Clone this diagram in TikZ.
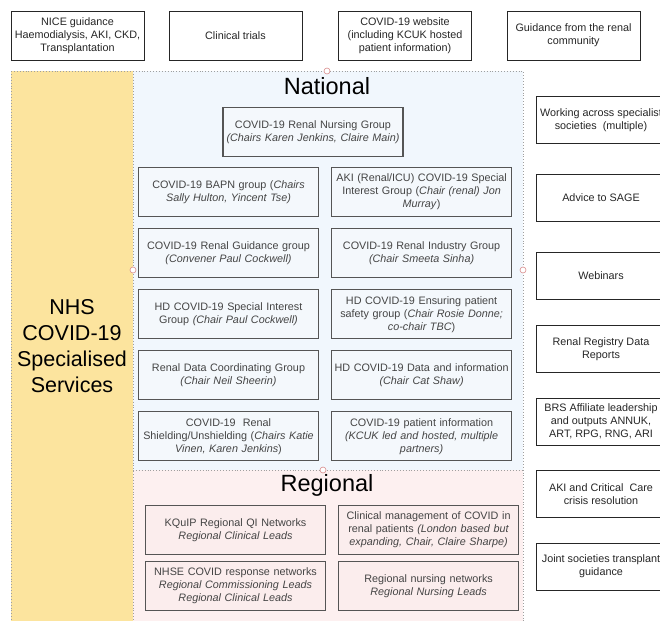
\documentclass[tikz,border=0pt]{standalone}
\usepackage{fontspec}
\setmainfont{Liberation Sans}
\usetikzlibrary{
    positioning
}
\definecolor{nhsYellow}{HTML}{FCE49E}
\definecolor{natFill}{HTML}{F1F7FD}
\definecolor{natBox}{HTML}{F4F8FC}
\definecolor{regFill}{HTML}{FDF0F0}
\definecolor{regBox}{HTML}{FBEDED}
\definecolor{boxLine}{HTML}{555555}
\definecolor{textGrey}{HTML}{444444}
\definecolor{handlePink}{HTML}{D98C8C}
\newcommand{\boxfont}{\fontsize{10.8}{13}\selectfont}
\tikzset{
    natBlock/.style={
        draw=boxLine,
        fill=natBox,
        line width=1.1pt,
        text width=176pt,
        inner xsep=2pt,
        minimum height=49pt,
        align=center,
        text=textGrey,
        font=\boxfont
    },
    regBlock/.style={
        natBlock,
        fill=regBox
    },
    outBlock/.style={
        draw=black!85,
        fill=white,
        line width=1pt,
        minimum width=133pt,
        minimum height=49pt,
        inner xsep=1pt,
        align=center,
        text=black!85,
        font=\boxfont
    },
    dotLine/.style={draw=gray!75,dotted,line width=0.9pt},
    handle/.style={circle,draw=handlePink,fill=white,inner sep=0pt,minimum size=6pt,line width=0.6pt},
    titleText/.style={font=\fontsize{23.5}{28}\selectfont,text=black}
}

\begin{document}
\begin{tikzpicture}[x=1pt,y=-1pt]
        \useasboundingbox (0,0) rectangle (660,621);
        \clip (0,0) rectangle (660,621);

        % background bands
        \fill[nhsYellow] (11,71) rectangle (133,621);
        \fill[natFill] (133,71) rectangle (523,470);
        \fill[regFill] (133,470) rectangle (523,621);
        \draw[dotLine] (11,71) -- (523,71) -- (523,621);
        \draw[dotLine] (11,71) -- (11,621);
        \draw[dotLine] (133,71) -- (133,621);
        \draw[dotLine] (133,470) -- (523,470);

        \node[handle] (hTop) at (327,71) {};
        \node[handle] (hLeft) at (133,270) {};
        \node[handle] (hRight) at (523,270) {};
        \node[handle] (hReg) at (323,470) {};

        \node[font=\fontsize{21.5}{26}\selectfont,align=center] (nhs) at (72,346)
            {NHS\\COVID-19\\Specialised\\Services};

        % top row
        \node[outBlock] (nice) at (77.5,35.5)
            {NICE guidance\\Haemodialysis, AKI, CKD,\\Transplantation};
        \node[outBlock] (trials) at (235.5,35.5) {Clinical trials};
        \node[outBlock] (website) at (405,35.5)
            {COVID-19 website\\(including KCUK hosted\\patient information)};
        \node[outBlock] (community) at (573.5,35.5)
            {Guidance from the renal\\community};

        % national groups
        \node[titleText] (national) at (327,86) {National};
        \node[natBlock] (nursing) at (313,132)
            {COVID-19 Renal Nursing Group\\\textit{(Chairs Karen Jenkins, Claire Main)}};
        \node[natBlock] (bapn) at (228.5,192)
            {COVID-19 BAPN group (\textit{Chairs}\\\textit{Sally Hulton, Yincent Tse)}};
        \node[natBlock,right=12pt of bapn] (aki)
            {AKI (Renal/ICU) COVID-19 Special\\Interest Group (\textit{Chair (renal) Jon}\\\textit{Murray})};
        \node[natBlock,below=11pt of bapn] (guidance)
            {COVID-19 Renal Guidance group\\\textit{(Convener Paul Cockwell)}};
        \node[natBlock,right=12pt of guidance] (industry)
            {COVID-19 Renal Industry Group\\\textit{(Chair Smeeta Sinha)}};
        \node[natBlock,below=11pt of guidance] (hdsig)
            {HD COVID-19 Special Interest\\Group \textit{(Chair Paul Cockwell)}};
        \node[natBlock,right=12pt of hdsig] (safety)
            {HD COVID-19 Ensuring patient\\safety group (\textit{Chair Rosie Donne;}\\\textit{co-chair TBC})};
        \node[natBlock,below=11pt of hdsig] (renaldata)
            {Renal Data Coordinating Group\\\textit{(Chair Neil Sheerin)}};
        \node[natBlock,right=12pt of renaldata] (hddata)
            {HD COVID-19 Data and information\\\textit{(Chair Cat Shaw)}};
        \node[natBlock,below=11pt of renaldata] (shielding)
            {COVID-19\ \ Renal\\Shielding/Unshielding (\textit{Chairs Katie}\\\textit{Vinen, Karen Jenkins})};
        \node[natBlock,right=12pt of shielding] (patientinfo)
            {COVID-19 patient information\\\textit{(KCUK led and hosted, multiple}\\\textit{partners)}};

        % regional groups
        \node[titleText] (regional) at (327,485) {Regional};
        \node[regBlock] (kquip) at (235.5,530)
            {KQuIP Regional QI Networks\\\textit{Regional Clinical Leads}};
        \node[regBlock,right=12pt of kquip] (clinmgmt)
            {Clinical management of COVID in\\renal patients \textit{(London based but}\\\textit{expanding, Chair, Claire Sharpe)}};
        \node[regBlock,below=6pt of kquip] (nhse)
            {NHSE COVID response networks\\\textit{Regional Commissioning Leads}\\\textit{Regional Clinical Leads}};
        \node[regBlock,right=12pt of nhse] (regnursing)
            {Regional nursing networks\\\textit{Regional Nursing Leads}};

        % outputs on the right
        \node[outBlock,minimum width=130pt,minimum height=47pt] (specialist) at (601,120)
            {Working across specialist\\societies\ \ (multiple)};
        \node[outBlock,minimum width=130pt,minimum height=47pt] (sage) at (601,198)
            {Advice to SAGE};
        \node[outBlock,minimum width=130pt,minimum height=47pt] (webinars) at (601,276)
            {Webinars};
        \node[outBlock,minimum width=130pt,minimum height=47pt] (registry) at (601,349)
            {Renal Registry Data\\Reports};
        \node[outBlock,minimum width=130pt,minimum height=47pt] (brs) at (601,421.5)
            {BRS Affiliate leadership\\and outputs ANNUK,\\ART, RPG, RNG, ARI};
        \node[outBlock,minimum width=130pt,minimum height=47pt] (critical) at (601,494)
            {AKI and Critical\ \ Care\\crisis resolution};
        \node[outBlock,minimum width=130pt,minimum height=47pt] (transplant) at (601,566.5)
            {Joint societies transplant\\guidance};
    \end{tikzpicture}
\end{document}
